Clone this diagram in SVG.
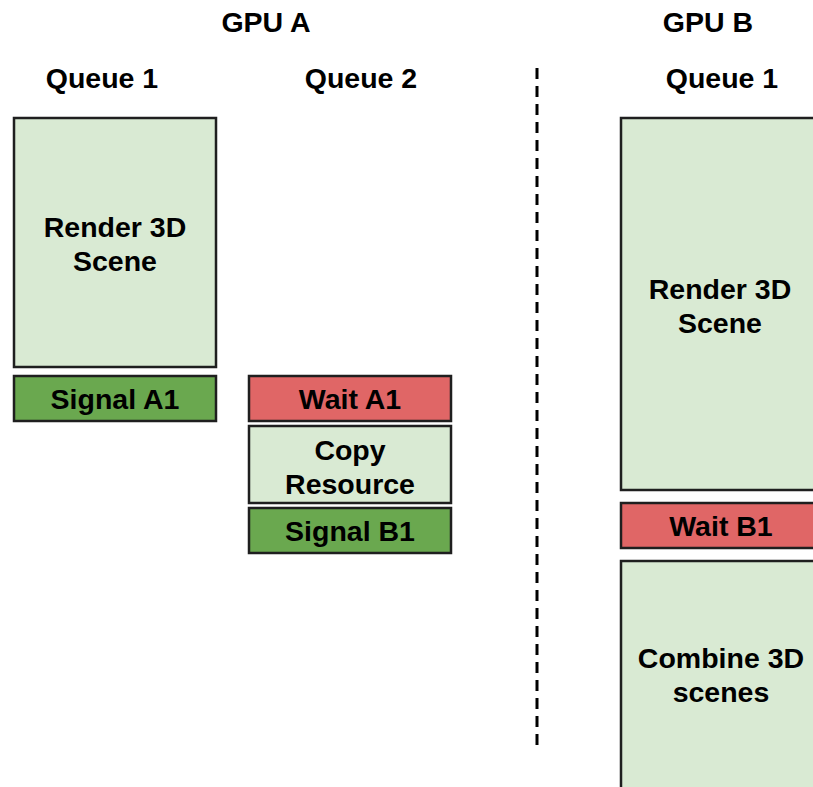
<svg xmlns="http://www.w3.org/2000/svg" width="813" height="787" viewBox="0 0 813 787">
<style>
.box{stroke:#1f1f1f;stroke-width:2.5}
.lg{fill:#d9ead3}
.g{fill:#6aa84f}
.r{fill:#e06666}
text{font-family:"Liberation Sans",Arial,sans-serif;font-weight:bold;fill:#000;text-anchor:middle}
.t{font-size:28.5px}
.h{font-size:28.5px}
</style>
<rect width="813" height="787" fill="#fff"/>
<g id="headers">
<text class="h" x="266" y="32">GPU A</text>
<text class="h" x="708" y="32">GPU B</text>
<text class="h" x="102" y="88">Queue 1</text>
<text class="h" x="361" y="88">Queue 2</text>
<text class="h" x="722" y="88">Queue 1</text>
</g>
<g id="connectors">
<line x1="537" y1="68" x2="537" y2="752" stroke="#000" stroke-width="3" stroke-dasharray="11,7"/>
</g>
<g id="renderA"><rect class="box lg" x="14" y="118" width="202" height="249"/><text class="t" x="115" y="237">Render 3D</text><text class="t" x="115" y="271">Scene</text></g>
<g id="signalA1"><rect class="box g" x="14" y="376" width="202" height="45"/><text class="t" x="115" y="409">Signal A1</text></g>
<g id="waitA1"><rect class="box r" x="249" y="376" width="202" height="45"/><text class="t" x="350" y="409">Wait A1</text></g>
<g id="copy"><rect class="box lg" x="249" y="426" width="202" height="77"/><text class="t" x="350" y="460">Copy</text><text class="t" x="350" y="494">Resource</text></g>
<g id="signalB1"><rect class="box g" x="249" y="508" width="202" height="45"/><text class="t" x="350" y="541">Signal B1</text></g>
<g id="renderB"><rect class="box lg" x="621" y="118" width="200" height="372"/><text class="t" x="720" y="299">Render 3D</text><text class="t" x="720" y="333">Scene</text></g>
<g id="waitB1"><rect class="box r" x="621" y="503" width="200" height="45"/><text class="t" x="721" y="536">Wait B1</text></g>
<g id="combine"><rect class="box lg" x="621" y="561" width="200" height="240"/><text class="t" x="721" y="668">Combine 3D</text><text class="t" x="721" y="702">scenes</text></g>
</svg>
